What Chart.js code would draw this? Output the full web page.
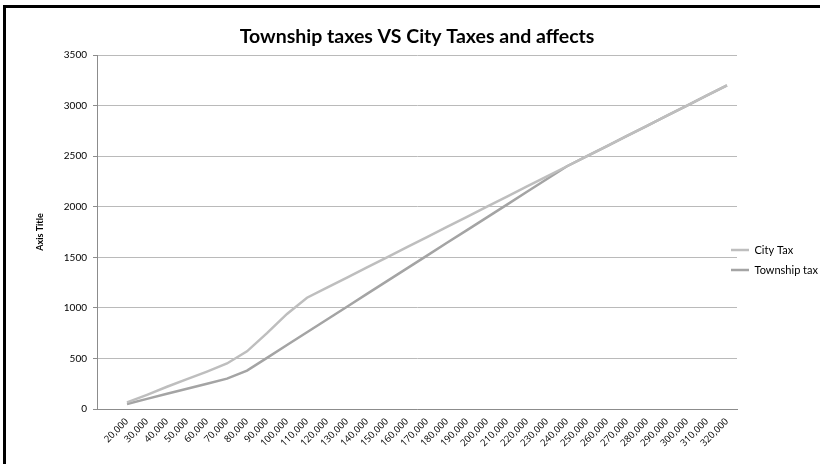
<!DOCTYPE html>
<html>
<head>
<meta charset="utf-8">
<title>Township taxes VS City Taxes and affects</title>
<script src="https://cdn.jsdelivr.net/npm/chart.js@4.4.1/dist/chart.umd.min.js"></script>
<style>
  html, body { margin: 0; padding: 0; background: #fff; }
  #wrap { position: relative; width: 820px; height: 464px; overflow: hidden; }
  #wrap canvas { position: absolute; left: 0; top: 0; }
  #frame { position: absolute; left: 3px; top: 5px; right: -4px; bottom: -4px;
           border-left: 3px solid #000; border-top: 3px solid #000; pointer-events: none; }
</style>
</head>
<body>
<div id="wrap">
  <canvas id="chart" width="820" height="464"></canvas>
  <div id="frame"></div>
</div>
<script>
// Income brackets (the first slot is left empty on purpose)
const incomeLabels = ['', '20,000', '30,000', '40,000', '50,000', '60,000', '70,000', '80,000',
  '90,000', '100,000', '110,000', '120,000', '130,000', '140,000', '150,000', '160,000',
  '170,000', '180,000', '190,000', '200,000', '210,000', '220,000', '230,000', '240,000',
  '250,000', '260,000', '270,000', '280,000', '290,000', '300,000', '310,000', '320,000'];

const cityTax = [null, 65, 140, 220, 295, 370, 450, 570, 750, 940,
  1100, 1200, 1300, 1400, 1500, 1600, 1700, 1800, 1900, 2000, 2100,
  2200, 2300, 2400, 2500, 2600, 2700, 2800, 2900, 3000, 3100, 3200];

const townshipTax = [null, 50, 100, 150, 200, 250, 300, 380, 506, 633,
  759, 885, 1011, 1138, 1264, 1390, 1516, 1643, 1769, 1895, 2021,
  2148, 2274, 2400, 2500, 2600, 2700, 2800, 2900, 3000, 3100, 3200];

const yTicks = { min: 0, max: 3500, step: 500 };

// Narrow legend pinned beside the plot; title centred over the plot
const placeBlocks = {
  id: 'placeBlocks',
  afterInit(chart) {
    const lg = chart.legend;
    const baseFit = lg.fit;
    lg.fit = function () { baseFit.call(this); this.width = 83; };
  },
  afterLayout(chart) {
    const area = chart.chartArea;
    const lg = chart.legend;
    lg.left = area.right - 15;
    lg.right = chart.width;
    lg.width = lg.right - lg.left;
    const h = lg.height;
    lg.top = 235.5;
    lg.bottom = lg.top + h;
    const tb = chart.titleBlock;
    tb.left = area.left;
    tb.right = area.right;
  }
};

new Chart(document.getElementById('chart'), {
  type: 'line',
  data: {
    labels: incomeLabels,
    datasets: [
      { label: 'City Tax', data: cityTax, borderColor: '#bebebe', backgroundColor: '#bebebe',
        borderWidth: 2.5, pointRadius: 0, tension: 0 },
      { label: 'Township tax', data: townshipTax, borderColor: '#a4a4a4', backgroundColor: '#a4a4a4',
        borderWidth: 2.5, pointRadius: 0, tension: 0 }
    ]
  },
  options: {
    responsive: false,
    devicePixelRatio: 1,
    animation: false,
    events: [],
    layout: { padding: { left: 33, right: 0, top: 0, bottom: 4 } },
    plugins: {
      title: {
        display: true,
        text: 'Township taxes VS City Taxes and affects',
        color: '#000',
        font: { family: 'Lato', size: 19.5, weight: 'bold' },
        padding: { top: 25.3, bottom: 6.3 }
      },
      legend: {
        position: 'right',
        align: 'start',
        labels: {
          usePointStyle: true,
          pointStyle: 'line',
          pointStyleWidth: 18,
          color: '#000',
          font: { family: 'Lato', size: 11 },
          padding: 9
        }
      },
      tooltip: { enabled: false }
    },
    scales: {
      x: {
        type: 'category',
        offset: true,
        grid: { display: true, drawOnChartArea: false, drawTicks: false },
        border: { display: true, color: '#8c8c8c', width: 1 },
        ticks: {
          autoSkip: false, minRotation: 45, maxRotation: 45,
          color: '#000', font: { family: 'Open Sans', size: 9.5 }, padding: 7
        },
        afterFit(scale) { scale.height = 51; }
      },
      y: {
        min: yTicks.min, max: yTicks.max,
        grid: { color: '#bababa', tickColor: '#8c8c8c', tickLength: 4, lineWidth: 1 },
        border: { display: true, color: '#8c8c8c', width: 1 },
        ticks: {
          stepSize: yTicks.step, color: '#000', font: { family: 'Lato', size: 10 }, padding: 6,
          callback: (v) => String(v)
        },
        title: {
          display: true, text: 'Axis Title', color: '#000',
          font: { family: 'Lato', size: 9, weight: 'bold' },
          padding: { top: 2, bottom: 2 }
        },
        afterFit(scale) { scale.width = 64; }
      }
    }
  },
  plugins: [placeBlocks]
});
</script>
</body>
</html>
